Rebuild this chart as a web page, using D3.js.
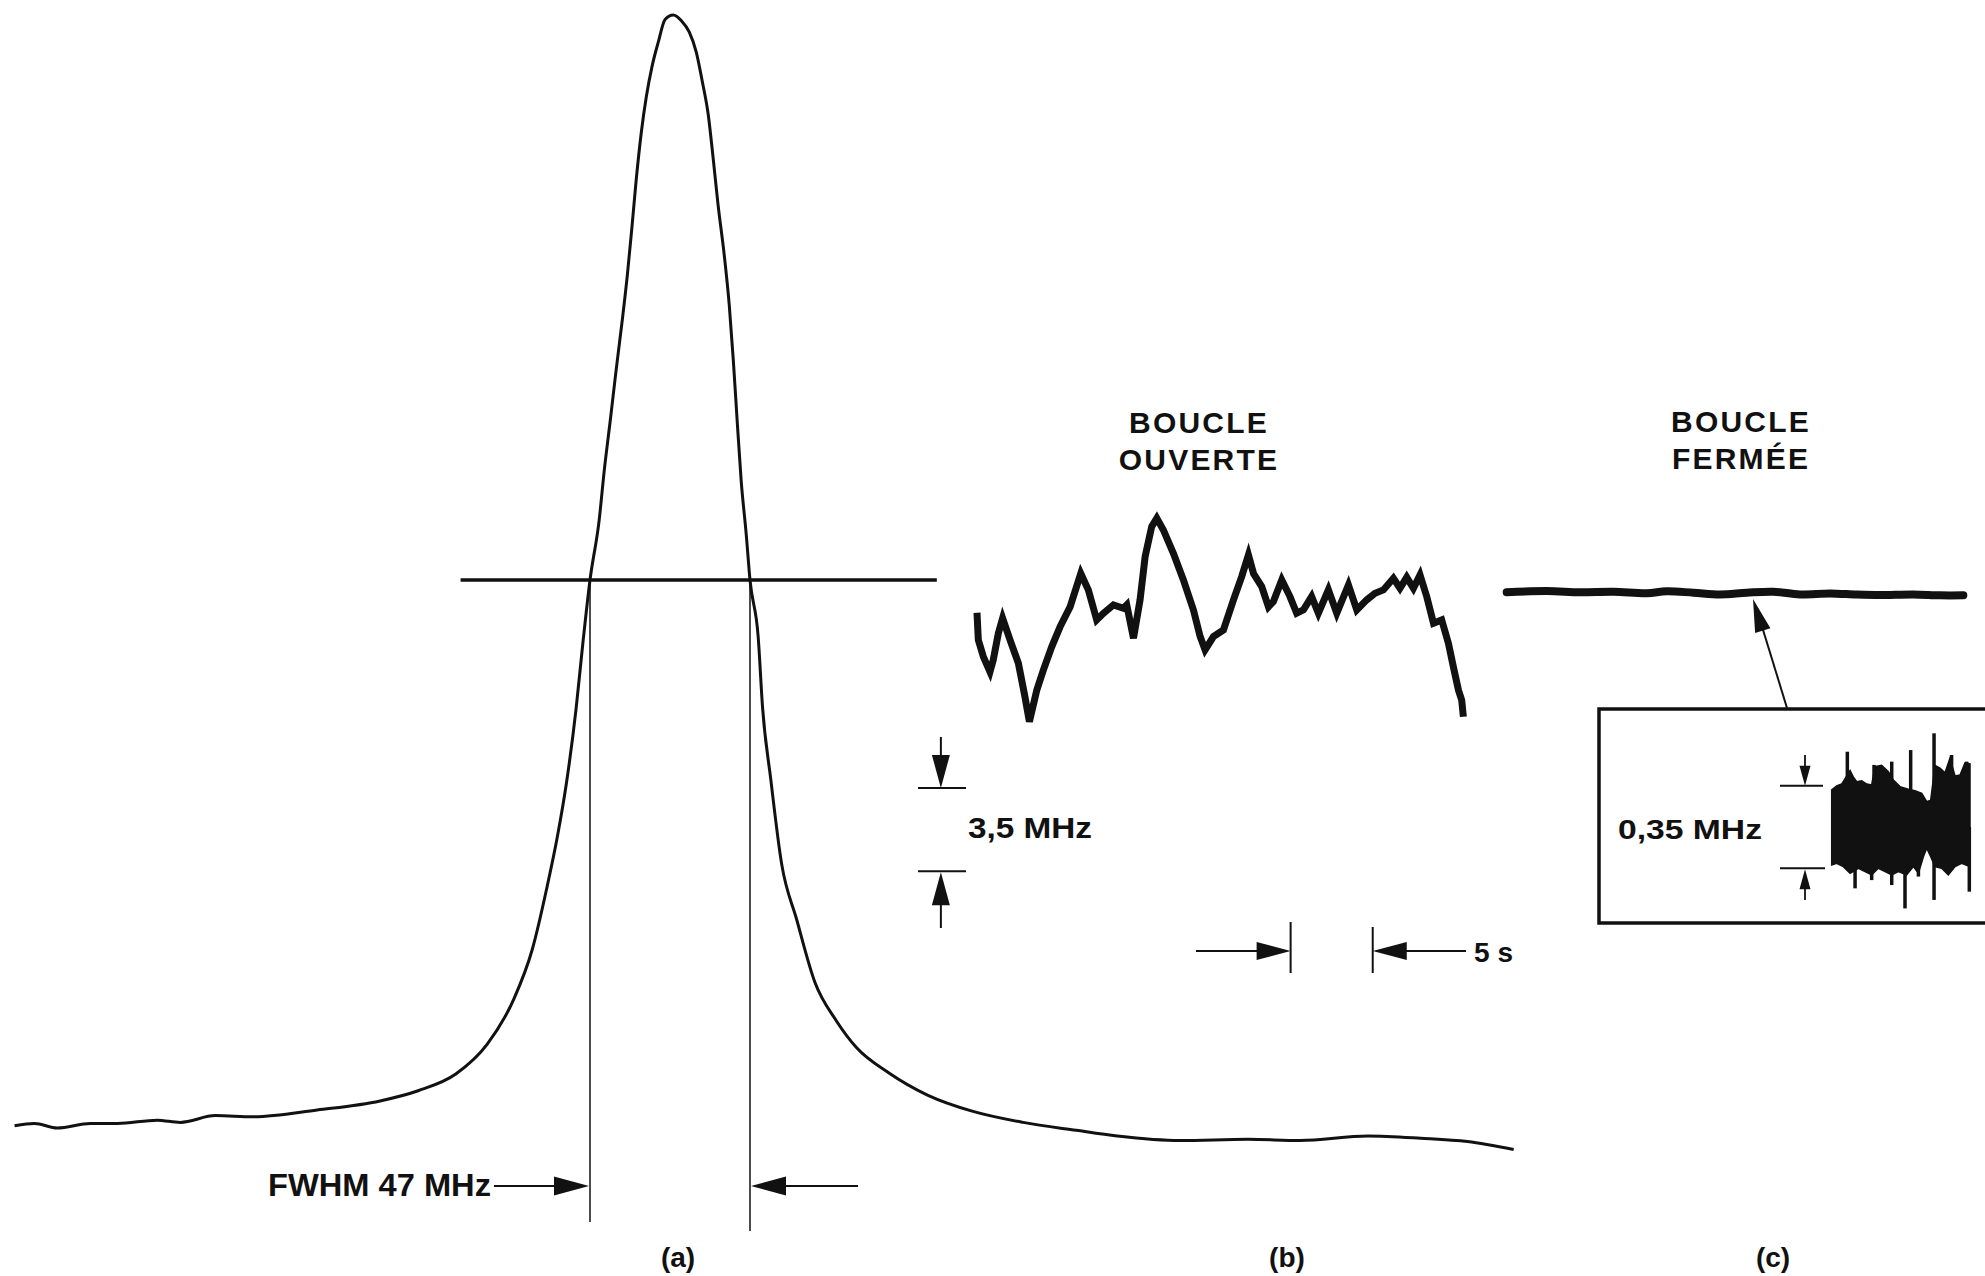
<!DOCTYPE html>
<html lang="fr">
<head>
<meta charset="UTF-8">
<title>Boucle ouverte / boucle fermée</title>
<script src="https://d3js.org/d3.v7.min.js"></script>
<style>
  body { margin: 0; background: #fff; }
  svg { display: block; }
  text { font-family: "Liberation Sans", Arial, Helvetica, sans-serif; font-weight: bold; fill: #111; }
</style>
</head>
<body>
<div id="chart"></div>
<script>
// (a) raie : écart de fréquence (MHz) / signal (% du maximum)
const spectrumFreq = [-193.9, -188.0, -181.3, -171.6, -163.6, -151.9, -145.1, -134.8, -123.6, -104.8,
  -86.3, -75.1, -63.9, -54.8, -47.1, -41.5, -37.1, -34.1, -31.5, -28.6,
  -26.5, -24.5, -21.8, -20.3, -18.5, -16.8, -15.0, -13.5, -12.1, -10.9,
  -9.4, -7.9, -6.2, -4.4, -2.4, 0, 2.4, 4.7, 6.8, 8.5,
  10.3, 11.8, 13.2, 15.0, 16.5, 17.7, 18.8, 20.0, 21.5, 22.6,
  25.0, 26.3, 28.7, 31.9, 36.3, 41.7, 48.0, 54.0, 63.4, 75.0,
  88.0, 103.0, 118.6, 130.7, 149.2, 169.2, 184.5, 204.5, 220.0, 233.8,
  247.4];
const spectrumSignal = [1.7, 1.9, 1.5, 1.9, 1.9, 2.2, 2.0, 2.6, 2.5, 3.1,
  3.9, 4.8, 6.3, 8.9, 12.8, 17.3, 22.9, 27.3, 31.9, 38.6,
  44.7, 50.0, 55.3, 59.7, 64.2, 68.6, 73.0, 77.0, 81.4, 85.4,
  89.6, 92.8, 95.5, 97.6, 99.6, 100, 99.5, 98.5, 96.7, 94.2,
  91.2, 87.2, 83.2, 78.8, 74.3, 69.4, 64.2, 58.8, 54.0, 50.0,
  45.0, 38.7, 32.4, 24.9, 20.0, 14.4, 11.0, 8.6, 6.4, 4.4,
  3.0, 2.0, 1.3, 0.8, 0.4, 0.5, 0.4, 0.8, 0.6, 0.3,
  -0.4];
const fwhmEdges = [-24.5, 22.6]; // 47 MHz

// (b) boucle ouverte : temps (s) / dérive de fréquence (MHz)
const openLoopTime = [0, 0.08, 0.39, 0.79, 0.99, 1.30, 1.56, 2.01, 2.52, 2.92,
  3.19, 3.64, 4.04, 4.55, 5.06, 5.67, 6.32, 6.78, 7.29, 7.70,
  8.31, 8.92, 9.12, 9.53, 9.93, 10.24, 10.64, 10.95, 11.35, 11.96,
  12.57, 13.18, 13.59, 13.89, 14.40, 15.01, 15.62, 16.12, 16.53, 16.84,
  17.34, 17.75, 18.05, 18.56, 19.06, 19.47, 19.88, 20.38, 20.79, 21.40,
  21.91, 22.62, 23.13, 23.73, 24.24, 24.75, 25.36, 25.76, 26.17, 26.58,
  26.98, 27.39, 27.80, 28.30, 28.71, 29.01, 29.32, 29.52, 29.62];
const openLoopFreq = [4.59, 3.45, 2.74, 2.11, 2.61, 3.73, 4.36, 3.45, 2.47, 1.06,
  0.01, 1.34, 2.18, 3.16, 4.00, 4.84, 6.24, 5.55, 4.29, 4.57,
  4.92, 4.78, 4.92, 3.52, 5.13, 6.95, 8.21, 8.56, 8.07, 7.09,
  5.97, 4.71, 3.59, 3.03, 3.59, 3.87, 5.13, 6.11, 7.02, 6.24,
  5.69, 4.84, 5.06, 5.97, 5.27, 4.57, 4.71, 5.27, 4.57, 5.55,
  4.57, 5.76, 4.71, 5.13, 5.41, 5.55, 6.04, 5.62, 6.08, 5.62,
  6.18, 5.27, 4.15, 4.29, 3.31, 2.32, 1.34, 0.92, 0.22];

// (c) boucle fermée, même échelle que (b)
const closedLoopTime = [0, 2.44, 4.46, 6.50, 8.53, 9.74, 11.37, 12.99, 14.62, 16.24,
  17.86, 19.69, 21.32, 22.73, 24.76, 26.39, 27.81];
const closedLoopFreq = [-0.01, 0.04, -0.01, 0.01, -0.05, 0.03, -0.03, -0.10, -0.03, 0.01,
  -0.10, -0.06, -0.11, -0.13, -0.10, -0.14, -0.14];

// encart (c) agrandi x10 : enveloppes du bruit (MHz), abscisse en % du balayage
const insetUpperT = [0, 3.6, 7.2, 13.3, 15.7, 18.1, 21.7, 25.3, 28.9, 31.3,
  36.1, 41.0, 44.6, 49.4, 55.4, 60.2, 65.1, 68.7, 71.6, 74.7,
  78.3, 81.9, 85.5, 89.2, 92.8, 96.4, 100];
const insetUpper = [0.157, 0.174, 0.182, 0.239, 0.211, 0.192, 0.196, 0.182, 0.178, 0.256,
  0.261, 0.234, 0.199, 0.171, 0.160, 0.154, 0.143, 0.107, 0.114, 0.261,
  0.249, 0.230, 0.291, 0.216, 0.220, 0.272, 0.268];
const insetLowerT = [0, 3.6, 8.4, 13.3, 19.3, 24.1, 28.9, 33.7, 38.6, 43.4,
  48.2, 54.2, 59.0, 62.7, 66.3, 68.7, 71.6, 74.7, 79.5, 84.3,
  89.2, 94.0, 100];
const insetLower = [-0.161, -0.154, -0.168, -0.196, -0.175, -0.189, -0.203, -0.175, -0.189, -0.203,
  -0.189, -0.203, -0.168, -0.196, -0.126, -0.090, -0.126, -0.168, -0.175, -0.203,
  -0.168, -0.154, -0.168];
const spikeT = [11.3, 16.9, 28.9, 30.6, 43.4, 43.4, 53.0, 57.1, 62.7, 74.0, 74.0, 86.7, 97.6, 99.5];
const spikeV = [0.319, -0.260, -0.225, 0.263, 0.277, -0.246, -0.345, 0.326, -0.21, 0.397, -0.309, 0.305, 0.277, -0.274];

const panelLabels = ["(a)", "(b)", "(c)"];
const titleOpen = ["BOUCLE", "OUVERTE"];
const titleClosed = ["BOUCLE", "FERMÉE"];

const W = 1985, H = 1276, ink = "#111";

const svg = d3.select("#chart").append("svg")
  .attr("width", W).attr("height", H)
  .style("background", "#fff");

// échelles
const xA = d3.scaleLinear().domain(fwhmEdges).range([590, 750]);
const yA = d3.scaleLinear().domain([0, 100]).range([1145, 15]);
const xB = d3.scaleLinear().domain([0, 5]).range([977, 1059.1]);
const yB = d3.scaleLinear().domain([0, 3.5]).range([722, 638.7]);
const xC = d3.scaleLinear().domain([0, 5]).range([1506.7, 1588.8]);
const yC = d3.scaleLinear().domain([0, 3.5]).range([592, 508.7]);
const xI = d3.scaleLinear().domain([0, 100]).range([1831.7, 1970]);
const yI = d3.scaleLinear().domain([0, 0.35]).range([827, 744.4]);

// pointe de flèche (triangle) dont la pointe est en (x, y), orientée selon (dx, dy)
function arrowHead(x, y, dx, dy, len, half) {
  const bx = x - dx * len, by = y - dy * len;
  const px = -dy * half, py = dx * half;
  svg.append("path")
    .attr("d", `M${x},${y}L${bx + px},${by + py}L${bx - px},${by - py}Z`)
    .attr("fill", ink);
}
function seg(x1, y1, x2, y2, w) {
  svg.append("line")
    .attr("x1", x1).attr("y1", y1).attr("x2", x2).attr("y2", y2)
    .attr("stroke", ink).attr("stroke-width", w);
}
function label(txt, x, y, size, anchor, len) {
  const t = svg.append("text")
    .attr("x", x).attr("y", y)
    .attr("font-size", size)
    .attr("text-anchor", anchor)
    .text(txt);
  if (len) t.attr("textLength", len).attr("lengthAdjust", "spacingAndGlyphs");
  return t;
}

// ---- (a) ----
const specData = spectrumFreq.map((f, i) => [f, spectrumSignal[i]]);
svg.append("path")
  .datum(specData)
  .attr("fill", "none").attr("stroke", ink).attr("stroke-width", 3)
  .attr("stroke-linejoin", "round")
  .attr("d", d3.line().x(d => xA(d[0])).y(d => yA(d[1])).curve(d3.curveMonotoneX));

seg(xA(-62.6), yA(50), xA(77.6), yA(50), 3.5);
seg(xA(fwhmEdges[0]), yA(50), xA(fwhmEdges[0]), 1222, 1.5);
seg(xA(fwhmEdges[1]), yA(50), xA(fwhmEdges[1]), 1231, 1.5);

const yF = 1186;
seg(494, yF, xA(fwhmEdges[0]) - 30, yF, 2);
arrowHead(xA(fwhmEdges[0]) - 1, yF, 1, 0, 35, 9.5);
seg(858, yF, xA(fwhmEdges[1]) + 30, yF, 2);
arrowHead(xA(fwhmEdges[1]) + 1, yF, -1, 0, 35, 9.5);
label("FWHM 47 MHz", 491, 1196, 31, "end", 223);

// ---- (b) ----
titleOpen.forEach((s, i) => label(s, 1199, 433 + i * 37, 30, "middle").attr("letter-spacing", 2.2));

const openData = openLoopTime.map((t, i) => [t, openLoopFreq[i]]);
svg.append("path")
  .datum(openData)
  .attr("fill", "none").attr("stroke", ink).attr("stroke-width", 7)
  .attr("stroke-linejoin", "miter")
  .attr("d", d3.line().x(d => xB(d[0])).y(d => yB(d[1])));

// barre 3,5 MHz
const xBar = xB(-2.2), fTop = -2.77, fBot = fTop - 3.5;
seg(xBar, 737, xBar, yB(fTop) - 25, 2);
arrowHead(xBar, yB(fTop), 0, 1, 33, 9);
seg(918, yB(fTop), 966, yB(fTop), 2);
seg(918, yB(fBot), 966, yB(fBot), 2);
arrowHead(xBar, yB(fBot) + 1, 0, -1, 33, 9);
seg(xBar, yB(fBot) + 25, xBar, 928, 2);
label("3,5 MHz", 968, 838, 29, "start", 124);

// barre 5 s
const t0 = 19.1, t1 = t0 + 5, yS = 951;
seg(1196, yS, xB(t0) - 25, yS, 2);
arrowHead(xB(t0), yS, 1, 0, 34, 9);
seg(xB(t0), 922, xB(t0), 973, 2);
seg(xB(t1), 927, xB(t1), 973, 2);
arrowHead(xB(t1), yS, -1, 0, 34, 9);
seg(xB(t1) + 25, yS, 1466, yS, 2);
label("5 s", 1474, 962, 28, "start", 39);

// ---- (c) ----
titleClosed.forEach((s, i) => label(s, 1741, 432 + i * 37, 30, "middle").attr("letter-spacing", 2.2));

const closedData = closedLoopTime.map((t, i) => [t, closedLoopFreq[i]]);
svg.append("path")
  .datum(closedData)
  .attr("fill", "none").attr("stroke", ink).attr("stroke-width", 8)
  .attr("stroke-linecap", "round")
  .attr("d", d3.line().x(d => xC(d[0])).y(d => yC(d[1])).curve(d3.curveCatmullRom));

// flèche vers l'encart
seg(1787, 708, 1760, 620, 2);
arrowHead(1753, 599, -0.296, -0.955, 33, 8);

// encart
svg.append("rect")
  .attr("x", 1599).attr("y", 709).attr("width", 420).attr("height", 214)
  .attr("fill", "none").attr("stroke", ink).attr("stroke-width", 3.5);

const envelope = insetUpperT.map((t, i) => [t, insetUpper[i]])
  .concat(insetLowerT.map((t, i) => [t, insetLower[i]]).reverse());
const envLine = d3.line().x(d => xI(d[0])).y(d => yI(d[1]));
svg.append("path")
  .datum(envelope)
  .attr("fill", ink).attr("stroke", ink).attr("stroke-width", 1.5)
  .attr("d", d => envLine(d) + "Z");

svg.append("g").selectAll("line")
  .data(spikeT.map((t, i) => [t, spikeV[i]]))
  .join("line")
  .attr("x1", d => xI(d[0])).attr("x2", d => xI(d[0]))
  .attr("y1", yI(0)).attr("y2", d => yI(d[1]))
  .attr("stroke", ink).attr("stroke-width", 3.5);

// barre 0,35 MHz
const xIB = 1805;
seg(xIB, 755, xIB, yI(0.175) - 14, 1.8);
arrowHead(xIB, yI(0.175), 0, 1, 20, 5.5);
seg(1780, yI(0.175), 1823, yI(0.175), 2);
seg(1780, yI(-0.175), 1825, yI(-0.175), 2);
arrowHead(xIB, yI(-0.175) + 1, 0, -1, 20, 5.5);
seg(xIB, yI(-0.175) + 14, xIB, 900, 1.8);
label("0,35 MHz", 1618, 839, 27, "start", 144);

// ---- repères (a) (b) (c) ----
[678, 1287, 1773].forEach((x, i) => label(panelLabels[i], x, 1267, 28, "middle"));
</script>
</body>
</html>
